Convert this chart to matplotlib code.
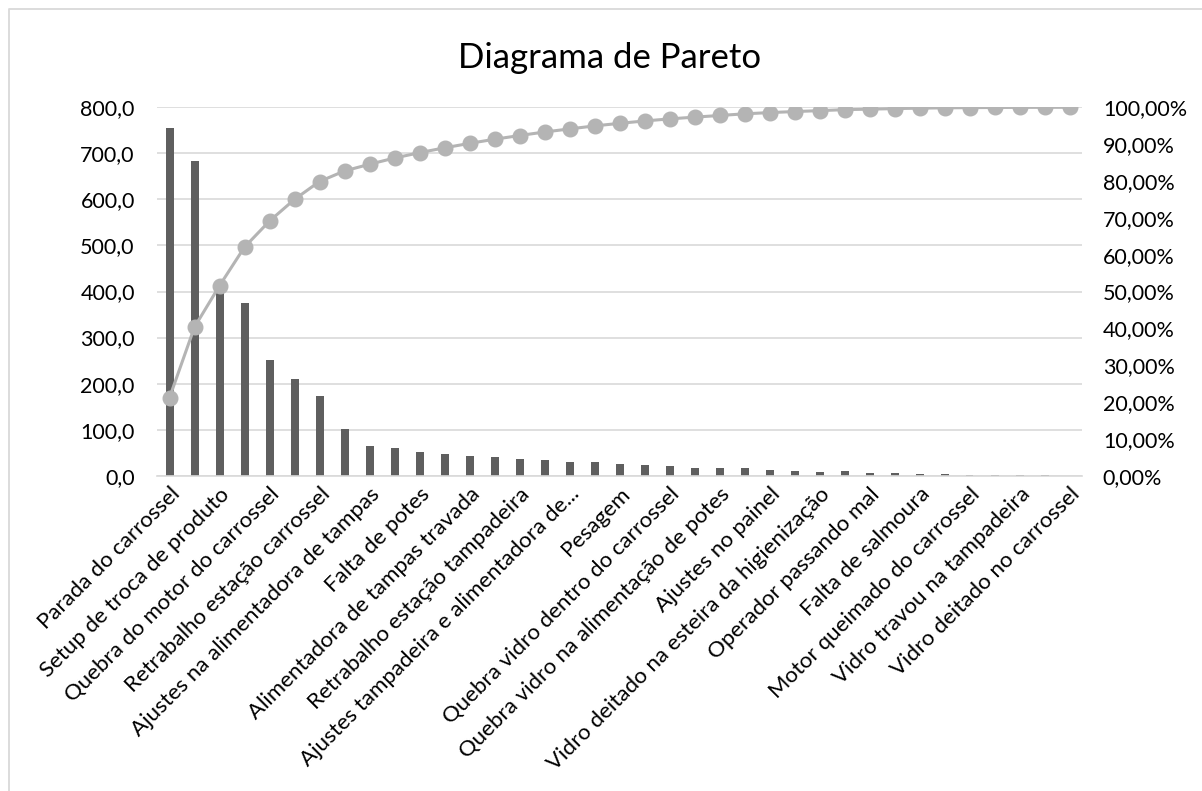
import matplotlib
matplotlib.use("Agg")
import matplotlib.pyplot as plt
from matplotlib.ticker import FuncFormatter
from matplotlib.lines import Line2D
import numpy as np

plt.rcParams['font.family'] = ['Lato', 'DejaVu Sans']

# Every other category label is shown on the axis (as in the original)
shown_labels = [
    "Parada do carrossel",
    "Setup de troca de produto",
    "Quebra do motor do carrossel",
    "Retrabalho estação carrossel",
    "Ajustes na alimentadora de tampas",
    "Falta de potes",
    "Alimentadora de tampas travada",
    "Retrabalho estação tampadeira",
    "Ajustes tampadeira e alimentadora de...",
    "Pesagem",
    "Quebra vidro dentro do carrossel",
    "Quebra vidro na alimentação de potes",
    "Ajustes no painel",
    "Vidro deitado na esteira da higienização",
    "Operador passando mal",
    "Falta de salmoura",
    "Motor queimado do carrossel",
    "Vidro travou na tampadeira",
    "Vidro deitado no carrossel",
]

values = [755, 684, 400, 374, 252, 210, 173, 102, 65, 60, 52, 47, 43, 40,
          36, 34, 30, 29, 25, 23, 20, 17, 16, 16, 12, 10, 9, 9.5, 5, 5,
          4.5, 3, 2, 1.5, 1, 0.5, 0.3]

left_ticks = list(range(0, 801, 100))
right_ticks = [i / 10 for i in range(0, 11)]

vals = np.array(values, dtype=float)
cum = np.cumsum(vals) / vals.sum()
x = np.arange(len(vals))

fig = plt.figure(figsize=(12.02, 7.91), dpi=100)
W, H = 1202, 791
ax = fig.add_axes([157 / W, (H - 475.7) / H, (1082 - 157) / W, (475.7 - 107.3) / H])

ax.bar(x, vals, width=0.32, color="#5f5f5f", zorder=2)
ax.set_xlim(-0.5, len(vals) - 0.5)
ax.set_ylim(0, 800)
ax.set_yticks(left_ticks)
ax.yaxis.set_major_formatter(FuncFormatter(lambda v, p: f"{v:.1f}".replace(".", ",")))
ax.grid(axis="y", color="#d9d9d9", linewidth=1.2, zorder=0)
ax.set_axisbelow(True)
for s in ["top", "right", "left"]:
    ax.spines[s].set_visible(False)
ax.spines["bottom"].set_color("#d9d9d9")
ax.spines["bottom"].set_linewidth(1.2)
ax.tick_params(axis="y", length=0, pad=16, labelsize=15.5, labelcolor="black")
ax.set_xticks(x[::2])
ax.set_xticklabels(shown_labels, rotation=45, ha="right", rotation_mode="anchor",
                   fontsize=16)
ax.tick_params(axis="x", length=0, pad=6)

ax2 = ax.twinx()
ax2.plot(x, cum, color="#b4b4b4", linewidth=2.2, marker="o", markersize=10.5,
         markerfacecolor="#b4b4b4", markeredgecolor="#b4b4b4", zorder=3)
ax2.set_ylim(0, 1)
ax2.set_yticks(right_ticks)
ax2.yaxis.set_major_formatter(FuncFormatter(lambda v, p: f"{v*100:.2f}%".replace(".", ",")))
for s in ["top", "right", "left", "bottom"]:
    ax2.spines[s].set_visible(False)
ax2.tick_params(axis="y", length=0, pad=15, labelsize=15.5, labelcolor="black")

fig.text(610 / W, 1 - 58 / H, "Diagrama de Pareto", ha="center", va="center",
         fontsize=25, color="black")

fig.add_artist(Line2D([8.5 / W, 8.5 / W, 1.0], [0, 1 - 9 / H, 1 - 9 / H],
                      transform=fig.transFigure, color="#d9d9d9", linewidth=1.3))

fig.savefig("out.png", dpi=100)
